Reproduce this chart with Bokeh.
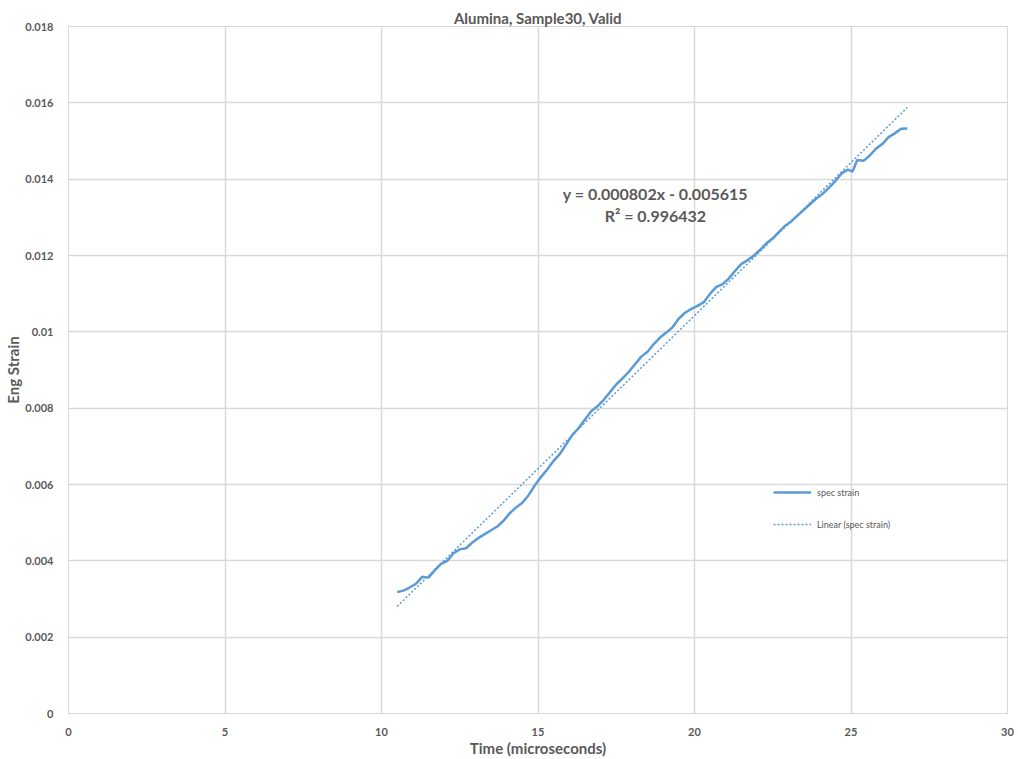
from bokeh.plotting import figure
from bokeh.models import Label, Legend, LegendItem, FixedTicker, Range1d
from bokeh.embed import file_html
from bokeh.resources import INLINE

# --- data ---
time_us = [10.5, 10.7, 10.9, 11.1, 11.3, 11.5, 11.7, 11.9, 12.1, 12.3, 12.5, 12.7, 12.9,
           13.1, 13.3, 13.5, 13.7, 13.9, 14.1, 14.3, 14.5, 14.7, 14.9, 15.1, 15.3, 15.5,
           15.7, 15.9, 16.1, 16.3, 16.5, 16.7, 16.9, 17.1, 17.3, 17.5, 17.7, 17.9, 18.1,
           18.3, 18.5, 18.7, 18.9, 19.1, 19.3, 19.5, 19.7, 19.9, 20.1, 20.3, 20.5, 20.7,
           20.9, 21.1, 21.3, 21.5, 21.7, 21.9, 22.1, 22.3, 22.5, 22.7, 22.9, 23.1, 23.3,
           23.5, 23.7, 23.9, 24.1, 24.3, 24.5, 24.7, 24.9, 25.05, 25.2, 25.4, 25.6, 25.8,
           26.0, 26.2, 26.4, 26.6, 26.8]
spec_strain = [0.00318, 0.00322, 0.00330, 0.00340, 0.00358, 0.00356, 0.00375, 0.00392,
               0.00400, 0.00420, 0.00430, 0.00433, 0.00448, 0.00460, 0.00470, 0.00480,
               0.00490, 0.00505, 0.00525, 0.00540, 0.00552, 0.00572, 0.00598, 0.00620,
               0.00640, 0.00662, 0.00680, 0.00705, 0.00730, 0.00748, 0.00770, 0.00792,
               0.00805, 0.00822, 0.00842, 0.00862, 0.00878, 0.00895, 0.00915, 0.00935,
               0.00948, 0.00968, 0.00985, 0.00998, 0.01012, 0.01035, 0.01050, 0.01060,
               0.01068, 0.01078, 0.01100, 0.01118, 0.01125, 0.01140, 0.01160, 0.01178,
               0.01188, 0.01200, 0.01215, 0.01232, 0.01245, 0.01262, 0.01278, 0.01290,
               0.01305, 0.01320, 0.01335, 0.01350, 0.01362, 0.01378, 0.01395, 0.01415,
               0.01425, 0.01420, 0.01450, 0.01448, 0.01462, 0.01480, 0.01492, 0.01510,
               0.01520, 0.01532, 0.01533]
fit_slope = 0.000802
fit_intercept = -0.005615
fit_r2 = 0.996432
fit_x = [time_us[0], time_us[-1]]
fit_y = [fit_slope * v + fit_intercept for v in fit_x]

x_ticks = [0, 5, 10, 15, 20, 25, 30]
y_ticks = [0, 0.002, 0.004, 0.006, 0.008, 0.01, 0.012, 0.014, 0.016, 0.018]

FONT = "Lato"
GREY = "#595959"
BLUE = "#5b9bd5"
GRID = "#d9d9d9"

p = figure(width=1018, height=759, output_backend="svg", toolbar_location=None,
           x_range=Range1d(0, 30), y_range=Range1d(0, 0.018),
           min_border_left=68, min_border_right=11, min_border_top=26, min_border_bottom=45,
           title="Alumina, Sample30, Valid")
p.title.align = "center"
p.title.text_font = FONT
p.title.text_font_size = "15px"
p.title.text_font_style = "bold"
p.title.text_color = GREY
p.title.standoff = 0

p.background_fill_color = "white"
p.border_fill_color = "white"
p.outline_line_color = GRID

p.xaxis.ticker = FixedTicker(ticks=x_ticks)
p.yaxis.ticker = FixedTicker(ticks=y_ticks)
p.yaxis.major_label_overrides = {0: "0", 0.002: "0.002", 0.004: "0.004", 0.006: "0.006",
                                 0.008: "0.008", 0.01: "0.01", 0.012: "0.012",
                                 0.014: "0.014", 0.016: "0.016", 0.018: "0.018"}
for ax in (p.xaxis, p.yaxis):
    ax.axis_line_color = GRID
    ax.major_tick_line_color = None
    ax.minor_tick_line_color = None
    ax.major_label_text_font = FONT
    ax.major_label_text_font_size = "11px"
    ax.major_label_text_font_style = "bold"
    ax.major_label_text_color = GREY
    ax.axis_label_text_font = FONT
    ax.axis_label_text_font_size = "15px"
    ax.axis_label_text_font_style = "bold"
    ax.axis_label_text_color = GREY
p.xaxis.axis_label = "Time (microseconds)"
p.yaxis.axis_label = "Eng Strain"
p.xaxis.major_label_standoff = 8
p.xaxis.axis_label_standoff = 0
p.yaxis.major_label_standoff = 9
p.yaxis.axis_label_standoff = 0

p.xgrid.grid_line_color = GRID
p.ygrid.grid_line_color = GRID
p.xgrid.grid_line_width = 1.5
p.ygrid.grid_line_width = 1.5

r_data = p.line(time_us, spec_strain, line_color=BLUE, line_width=2.5)
r_fit = p.line(fit_x, fit_y, line_color=BLUE, line_width=1.5, line_dash="2 2")

legend = Legend(items=[LegendItem(label="spec strain", renderers=[r_data]),
                       LegendItem(label="Linear (spec strain)", renderers=[r_fit])],
                location=(705, 179), border_line_color=None, background_fill_alpha=0,
                label_text_font=FONT, label_text_font_size="9px", label_text_color=GREY,
                glyph_width=38, spacing=12, padding=4, label_standoff=6)
p.add_layout(legend)

eq_text = "y = %.6fx - %.6f" % (fit_slope, -fit_intercept)
r2_text = "R² = %.6f" % fit_r2
p.add_layout(Label(x=18.75, y=0.01363, text=eq_text, text_align="center",
                   text_baseline="middle", text_font=FONT, text_font_size="16px",
                   text_font_style="bold", text_color=GREY))
p.add_layout(Label(x=18.75, y=0.01305, text=r2_text, text_align="center",
                   text_baseline="middle", text_font=FONT, text_font_size="16px",
                   text_font_style="bold", text_color=GREY))

open("out.html", "w").write(file_html(p, INLINE))
